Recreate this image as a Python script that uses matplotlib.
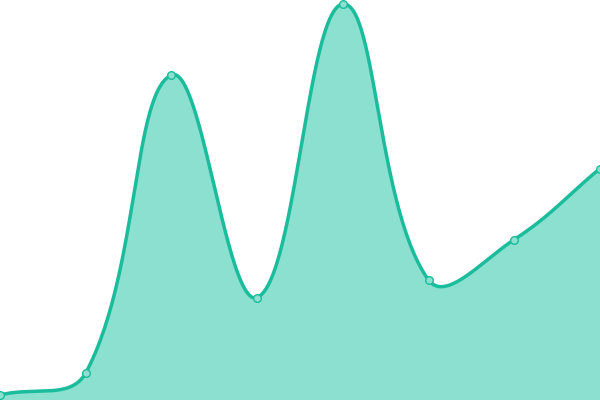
import numpy as np
import matplotlib
matplotlib.use("Agg")
import matplotlib.pyplot as plt

categories = ["1", "2", "3", "4", "5", "6", "7", "8"]
values = [5, 27, 325, 102.5, 396, 120, 160.5, 231.5]

LINE = "#1abc9c"
FILL = "#8be0cf"

W, H = 600, 400
fig = plt.figure(figsize=(6, 4), dpi=100)
ax = fig.add_axes([0, 0, 1, 1])
n = len(values)
ax.set_xlim(0, n - 1)
ax.set_ylim(0, 400)
ax.axis("off")

# Chart.js-style spline (tension 0.4) computed in pixel space
sx = W / (n - 1)
px = np.arange(n) * sx
py = np.array(values, dtype=float)
t = 0.4
cps = []
for i in range(n):
    cur = np.array([px[i], py[i]])
    prev = np.array([px[i - 1], py[i - 1]]) if i > 0 else cur
    nxt = np.array([px[i + 1], py[i + 1]]) if i < n - 1 else cur
    d01 = np.hypot(*(cur - prev))
    d12 = np.hypot(*(nxt - cur))
    tot = d01 + d12
    s01 = d01 / tot if tot else 0
    s12 = d12 / tot if tot else 0
    fa, fb = t * s01, t * s12
    c1 = cur - fa * (nxt - prev)
    c2 = cur + fb * (nxt - prev)
    c1[1] = np.clip(c1[1], 0, H); c2[1] = np.clip(c2[1], 0, H)
    c1[0] = np.clip(c1[0], 0, W); c2[0] = np.clip(c2[0], 0, W)
    cps.append((c1, c2))

xs, ys = [], []
s = np.linspace(0, 1, 60)
for i in range(n - 1):
    p0 = np.array([px[i], py[i]]); p3 = np.array([px[i + 1], py[i + 1]])
    p1 = cps[i][1]; p2 = cps[i + 1][0]
    b = ((1 - s) ** 3)[:, None] * p0 + (3 * (1 - s) ** 2 * s)[:, None] * p1 \
        + (3 * (1 - s) * s ** 2)[:, None] * p2 + (s ** 3)[:, None] * p3
    xs.extend(b[:, 0]); ys.extend(b[:, 1])
xs = np.array(xs) / sx
ys = np.array(ys)

ax.fill_between(xs, ys, 0, color=FILL, lw=0, zorder=1)
ax.plot(xs, ys, color=LINE, lw=2.5, zorder=2, solid_capstyle="round")
ax.plot(np.arange(n), values, "o", ms=5.5, mfc=FILL, mec=LINE, mew=1.0,
        zorder=3, clip_on=False)

fig.savefig("out.png", dpi=100)
